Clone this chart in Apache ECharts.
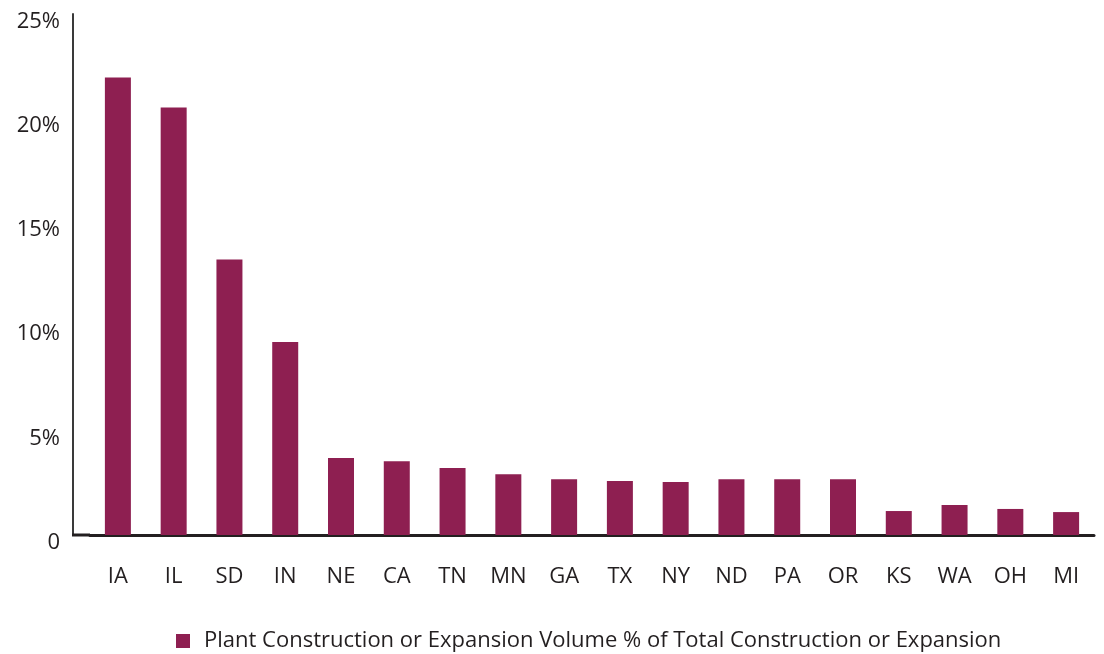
<!DOCTYPE html>
<html>
<head>
<meta charset="utf-8">
<script src="https://cdn.jsdelivr.net/npm/echarts@6/dist/echarts.min.js"></script>
<style>
html,body{margin:0;padding:0;background:#fff;}
#chart{width:1104px;height:654px;}
</style>
</head>
<body>
<div id="chart"></div>
<script>
var categories = ['IA','IL','SD','IN','NE','CA','TN','MN','GA','TX','NY','ND','PA','OR','KS','WA','OH','MI'];
var values = [21.95, 20.51, 13.22, 9.26, 3.69, 3.54, 3.21, 2.92, 2.68, 2.59, 2.54, 2.68, 2.68, 2.68, 1.15, 1.44, 1.25, 1.10];
var yTicks = [0, 5, 10, 15, 20, 25];
var seriesName = 'Plant Construction or Expansion Volume % of Total Construction or Expansion';

var FONT = 'Open Sans';
var TEXT = '#231f20';
var BAR = '#8e1f51';
var GRID_LEFT = 90;
var Y_OFFSET = 17;

var chart = echarts.init(document.getElementById('chart'), null, {renderer: 'canvas'});
chart.setOption({
  animation: false,
  backgroundColor: '#fff',
  grid: {left: GRID_LEFT, right: 10, top: 14, bottom: 119, containLabel: false},
  legend: {
    data: [seriesName],
    left: 171, top: 625,
    icon: 'rect', itemWidth: 14, itemHeight: 14, itemGap: 10,
    textStyle: {fontFamily: FONT, fontSize: 22, color: TEXT, padding: [0, 0, 0, 9]}
  },
  xAxis: {
    type: 'category',
    data: categories,
    axisLine: {lineStyle: {color: TEXT, width: 3}},
    axisTick: {show: false},
    axisLabel: {fontFamily: FONT, fontSize: 22, color: TEXT, margin: 31, interval: 0}
  },
  yAxis: {
    type: 'value',
    min: yTicks[0], max: yTicks[yTicks.length - 1], interval: 5,
    offset: Y_OFFSET,
    axisLine: {show: true, lineStyle: {color: '#3a3a3a', width: 2}},
    axisTick: {show: false},
    splitLine: {show: false},
    axisLabel: {
      fontFamily: FONT, fontSize: 22, color: TEXT, margin: 13,
      verticalAlign: 'top', lineHeight: 15,
      formatter: function (v) { return v === 0 ? '0' : v + '%'; }
    }
  },
  series: [{
    name: seriesName,
    type: 'bar',
    data: values,
    barWidth: 26,
    itemStyle: {color: BAR}
  }]
});

var y0 = chart.convertToPixel({yAxisIndex: 0}, 0);
chart.setOption({
  graphic: [{
    type: 'line',
    shape: {x1: GRID_LEFT - Y_OFFSET - 1, y1: y0, x2: GRID_LEFT, y2: y0},
    style: {stroke: TEXT, lineWidth: 3},
    z: 10
  }]
});
</script>
</body>
</html>
